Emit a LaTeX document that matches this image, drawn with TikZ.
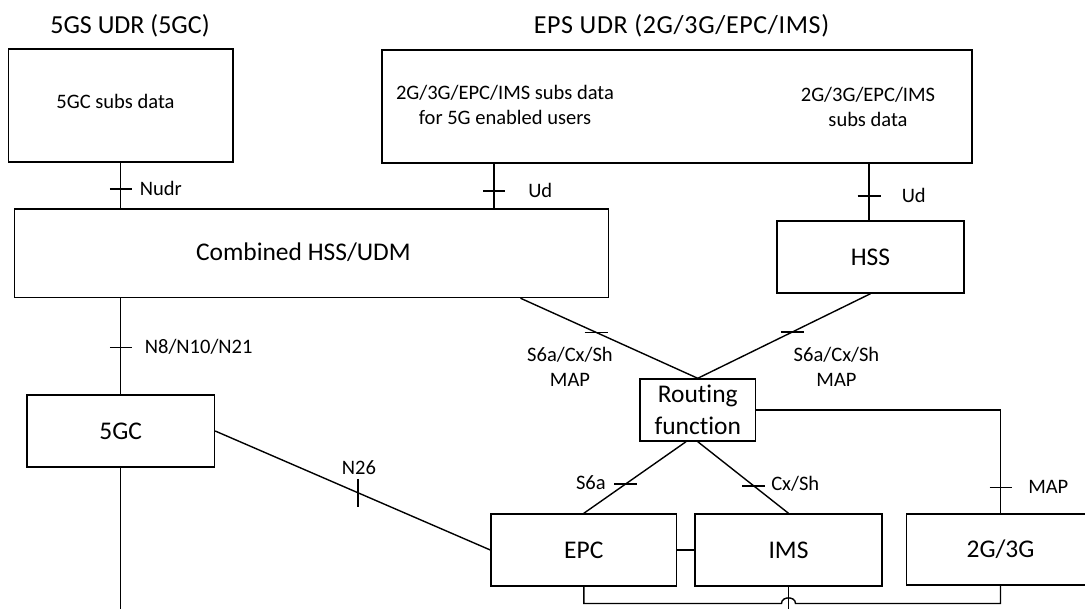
\documentclass[tikz,border=0pt]{standalone}
\usepackage{fontspec}
\setmainfont{Carlito}[Ligatures=CommonOff]
\newfontfamily\epsttlfont{Carlito}[Ligatures=CommonOff,LetterSpace=2.5]
\begin{document}
\begin{tikzpicture}[x=0.75pt,y=-0.75pt,
  wire/.style={line width=1.05pt},
  box/.style={draw, rectangle, line width=1.05pt, inner sep=0pt},
  sm/.style={font=\fontsize{15.4}{18.75}\selectfont, inner sep=0pt},
  lg/.style={font=\fontsize{19.1}{24}\selectfont, inner sep=0pt},
  ttl/.style={font=\fontsize{19.5}{24}\selectfont, inner sep=0pt},
  caps/.style={text height=9.9pt, text depth=0pt},
  capl/.style={text height=12.3pt, text depth=0pt},
  capt/.style={text height=12.56pt, text depth=0pt}]
\useasboundingbox (0,0) rectangle (1085,609);
\clip (0,0) rectangle (1085,609);

% titles
\node[ttl, capt] (t5gs) at (130,25) {5GS UDR (5GC)};
\node[ttl, capt, font=\fontsize{19.5}{24}\epsttlfont] (teps) at (681.5,25) {EPS UDR (2G/3G/EPC/IMS)};

% boxes
\node[box, minimum width=168.4pt, minimum height=84.75pt] (sub5) at (120.75,105.5) {};
\node[sm, caps] (sub5t) at (115.5,102) {5GC subs data};
\node[box, minimum width=442.5pt, minimum height=84.75pt] (eps) at (677,106.5) {};
\node[sm, align=center] (epsl) at (505,104.5) {2G/3G/EPC/IMS subs data\\for 5G enabled users};
\node[sm, align=center] (epsr) at (868,106.5) {2G/3G/EPC/IMS\\subs data};
\node[box, minimum width=445.5pt, minimum height=66.4pt] (comb) at (311.5,253.25) {};
\node[lg, capl] (combt) at (303.4,252) {Combined HSS/UDM};
\node[box, lg, capl, minimum width=140.25pt, minimum height=54pt] (hss) at (870.5,257) {HSS};
\node[box, lg, capl, minimum width=140.6pt, minimum height=54pt] (c5gc) at (120.75,431) {5GC};
\node[box, lg, align=center, minimum width=86.6pt, minimum height=46.5pt] (rout) at (697.75,410) {Routing\\function};
\node[box, lg, capl, minimum width=139.2pt, minimum height=54pt] (epc) at (583.8,550) {EPC};
\node[box, lg, capl, minimum width=140.25pt, minimum height=54pt] (ims) at (788.5,550) {IMS};
\node[box, lg, capl, minimum width=140.7pt, minimum height=53.25pt] (g23) at (1000.5,549.5) {2G/3G};

% helper coordinates
\coordinate (udlx) at (494,0);
\coordinate (udrx) at (869,0);
\coordinate (dl) at (520.5,0);
\coordinate (busy) at (0,603.5);
\coordinate (boty) at (0,612);
\coordinate (hopL) at (781.5,603.5);
\coordinate (hopR) at (795.5,603.5);
\coordinate (hopc1) at (781.5,596);
\coordinate (hopc2) at (795.5,596);

% Nudr
\draw[wire] (sub5.south) -- (sub5.south |- comb.north) coordinate[pos=0.574] (tNudr);
\draw[wire] (tNudr) ++(-11,0) -- ++(22,0);
\node[sm, caps, anchor=west] (lNudr) at (139.5,189) {Nudr};

% Ud left
\draw[wire] (udlx |- eps.south) -- (udlx |- comb.north) coordinate[pos=0.61] (tUdl);
\draw[wire] (tUdl) ++(-11,0) -- ++(22,0);
\node[sm, caps, anchor=west] (lUdl) at (528,191) {Ud};

% Ud right
\draw[wire] (udrx |- eps.south) -- (udrx |- hss.north) coordinate[pos=0.57] (tUdr);
\draw[wire] (tUdr) ++(-11.5,0) -- ++(23,0);
\node[sm, caps, anchor=west] (lUdr) at (901.5,196) {Ud};

% N8/N10/N21
\draw[wire] (c5gc.north |- comb.south) -- (c5gc.north) coordinate[pos=0.51] (tN8);
\draw[wire] (tN8) ++(-11,0) -- ++(22,0);
\node[sm, caps, anchor=west] (lN8) at (144.6,347) {N8/N10/N21};

% below 5GC
\draw[wire] (c5gc.south) -- (c5gc.south |- boty);

% N26
\draw[wire] (c5gc.east) -- (epc.west) coordinate[pos=0.519] (tN26);
\draw[wire] (tN26) ++(0,-14) -- ++(0,28);
\node[sm, caps] (lN26) at (359,468) {N26};

% diagonals to routing function
\draw[wire] (dl |- comb.south) -- (rout.north) coordinate[pos=0.427] (tdl);
\draw[wire] (tdl) ++(-11.5,0) -- ++(23,0);
\draw[wire] (hss.south) -- (rout.north) coordinate[pos=0.453] (tdr);
\draw[wire] (tdr) ++(-11.5,0) -- ++(23,0);
\node[sm, align=center] (ldl) at (570,366.5) {S6a/Cx/Sh\\MAP};
\node[sm, align=center] (ldr) at (836.5,366.5) {S6a/Cx/Sh\\MAP};

% routing function to 2G/3G
\draw[wire] (rout.east) -| (g23.north) coordinate[pos=0.875] (tmap);
\draw[wire] (tmap) ++(-11,0) -- ++(22,0);
\node[sm, caps, anchor=west] (lmap) at (1028,487) {MAP};

% routing function to EPC and IMS
\draw[wire] ([xshift=-8.8pt]rout.south) -- (epc.north) coordinate[pos=0.589] (ts6a);
\draw[wire] (ts6a) ++(-11.5,0) -- ++(23,0);
\node[sm, caps, anchor=east] (ls6a) at (606,483) {S6a};
\draw[wire] (rout.south) -- (ims.north) coordinate[pos=0.616] (tcx);
\draw[wire] (tcx) ++(-11.5,0) -- ++(23,0);
\node[sm, caps, anchor=west] (lcx) at (771,484) {Cx/Sh};

% EPC - IMS
\draw[wire] (epc.east) -- (ims.west);

% bottom bus with hop over IMS line
\draw[wire] (epc.south) -- (epc.south |- busy) -- (hopL)
  .. controls (hopc1) and (hopc2) .. (hopR)
  -- (g23.south |- busy) -- (g23.south);
\draw[wire] (ims.south) -- (ims.south |- boty);
\end{tikzpicture}
\end{document}
